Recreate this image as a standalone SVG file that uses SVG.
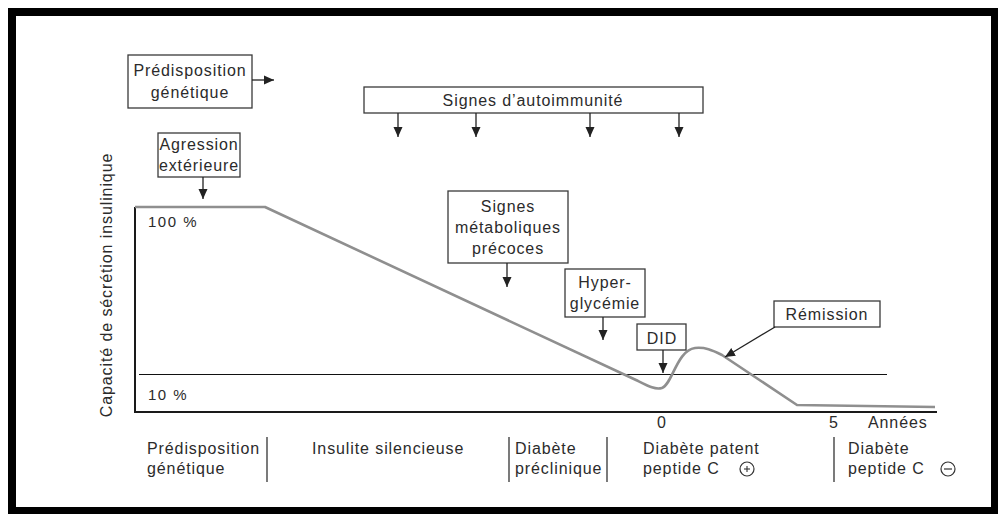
<svg xmlns="http://www.w3.org/2000/svg" width="998" height="514" viewBox="0 0 998 514">
<defs>
<marker id="ah" viewBox="0 0 10 10" refX="10" refY="5" markerWidth="10" markerHeight="10" markerUnits="userSpaceOnUse" orient="auto">
<path d="M0,0.5 L10,5 L0,9.5 z" fill="#222"/>
</marker>
<style>
text{font-family:"Liberation Sans",Arial,sans-serif;font-size:16px;fill:#2b2b2b;letter-spacing:0.9px}
.c{text-anchor:middle}
.box{fill:#fff;stroke:#3a3a3a;stroke-width:1.3}
.arr{stroke:#222;stroke-width:1.3;fill:none;marker-end:url(#ah)}
.sep{stroke:#333;stroke-width:1.3}
</style>
</defs>
<rect width="998" height="514" fill="#fff"/>
<rect x="12" y="12" width="983" height="499" fill="none" stroke="#000" stroke-width="8"/>

<g id="axes">
<line x1="135" y1="207" x2="135" y2="412" stroke="#1a1a1a" stroke-width="2"/>
<line x1="134" y1="412" x2="937" y2="412" stroke="#1a1a1a" stroke-width="2"/>
<line x1="139" y1="374.5" x2="887" y2="374.5" stroke="#111" stroke-width="1"/>
<text x="148" y="227" style="font-size:15px;letter-spacing:1.5px">100 %</text>
<text x="148" y="400" style="font-size:15px;letter-spacing:1.5px">10 %</text>
<text transform="translate(112,285) rotate(-90)" class="c">Capacité de sécrétion insulinique</text>
<text x="662" y="428" class="c">0</text>
<text x="834" y="428" class="c">5</text>
<text x="868" y="428">Années</text>
</g>

<g id="curve">
<path d="M135,207 L265,207 L636,380 C648,386 655,390 662,388 C672,385 677,350 695,348 C705,347 712,350 722,355 L797,405 L935,407" fill="none" stroke="#8f8f8f" stroke-width="2.6" stroke-linejoin="round"/>
</g>

<g id="predisposition">
<rect class="box" x="128" y="55" width="124" height="53"/>
<text x="190" y="76" class="c">Prédisposition</text>
<text x="190" y="98" class="c">génétique</text>
</g>

<g id="agression">
<rect class="box" x="158" y="133" width="82" height="44"/>
<text x="199" y="150" class="c">Agression</text>
<text x="199" y="171" class="c">extérieure</text>
</g>

<g id="autoimmunite">
<rect class="box" x="364" y="87" width="339" height="26"/>
<text x="533" y="106" class="c">Signes d’autoimmunité</text>
</g>

<g id="metaboliques">
<rect class="box" x="448" y="191" width="120" height="72"/>
<text x="508" y="212" class="c">Signes</text>
<text x="508" y="233" class="c">métaboliques</text>
<text x="508" y="254" class="c">précoces</text>
</g>

<g id="hyperglycemie">
<rect class="box" x="565" y="269" width="80" height="48"/>
<text x="605" y="288" class="c">Hyper-</text>
<text x="605" y="309" class="c">glycémie</text>
</g>

<g id="did">
<rect class="box" x="637" y="324" width="49" height="26"/>
<text x="662" y="344" class="c">DID</text>
</g>

<g id="remission">
<rect class="box" x="774" y="301" width="106" height="26"/>
<text x="827" y="320" class="c">Rémission</text>
</g>

<g id="connectors">
<line class="arr" x1="252" y1="80" x2="274" y2="80"/>
<line class="arr" x1="203" y1="177" x2="203" y2="199"/>
<line class="arr" x1="398" y1="113" x2="398" y2="137"/>
<line class="arr" x1="476" y1="113" x2="476" y2="137"/>
<line class="arr" x1="590" y1="113" x2="590" y2="137"/>
<line class="arr" x1="679" y1="113" x2="679" y2="137"/>
<line class="arr" x1="507" y1="263" x2="507" y2="287"/>
<line class="arr" x1="603" y1="317" x2="603" y2="340"/>
<line class="arr" x1="663" y1="350" x2="663" y2="373"/>
<line class="arr" x1="775" y1="327" x2="725" y2="357"/>
</g>

<g id="phases">
<text x="147" y="454">Prédisposition</text>
<text x="147" y="474">génétique</text>
<line class="sep" x1="267" y1="437" x2="267" y2="482"/>
<text x="312" y="454">Insulite silencieuse</text>
<line class="sep" x1="509" y1="437" x2="509" y2="482"/>
<text x="515" y="454">Diabète</text>
<text x="515" y="474">préclinique</text>
<line class="sep" x1="607" y1="437" x2="607" y2="482"/>
<text x="643" y="454">Diabète patent</text>
<text x="643" y="474">peptide C</text>
<circle cx="747" cy="469" r="7" fill="none" stroke="#333" stroke-width="1.2"/>
<line x1="744" y1="469" x2="750" y2="469" stroke="#333" stroke-width="1.1"/>
<line x1="747" y1="466" x2="747" y2="472" stroke="#333" stroke-width="1.1"/>
<line class="sep" x1="834" y1="437" x2="834" y2="482"/>
<text x="848" y="454">Diabète</text>
<text x="848" y="474">peptide C</text>
<circle cx="948" cy="469" r="7" fill="none" stroke="#333" stroke-width="1.2"/>
<line x1="944" y1="469" x2="952" y2="469" stroke="#333" stroke-width="1.2"/>
</g>
</svg>
